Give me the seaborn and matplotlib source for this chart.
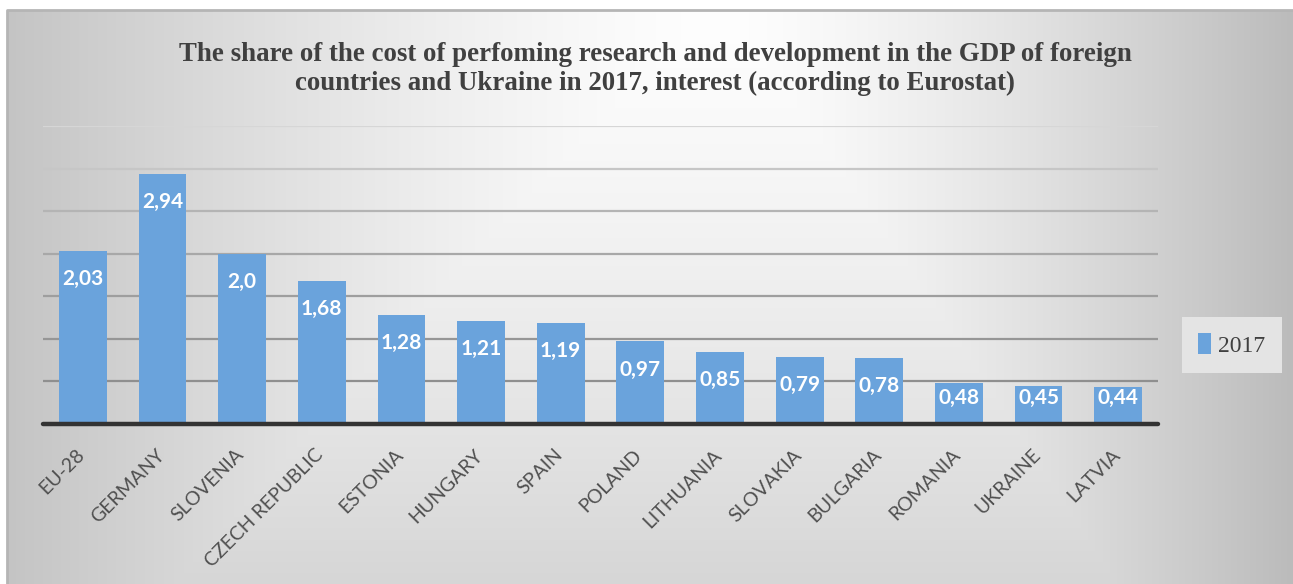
import numpy as np
import pandas as pd
import matplotlib
matplotlib.use("Agg")
import matplotlib.pyplot as plt
import matplotlib.transforms as mtransforms
import seaborn as sns

# R&D expenditure as a share of GDP, 2017
countries = ["EU-28", "GERMANY", "SLOVENIA", "CZECH REPUBLIC", "ESTONIA", "HUNGARY",
             "SPAIN", "POLAND", "LITHUANIA", "SLOVAKIA", "BULGARIA", "ROMANIA",
             "UKRAINE", "LATVIA"]
shares = [2.03, 2.94, 2.00, 1.68, 1.28, 1.21, 1.19, 0.97, 0.85, 0.79, 0.78, 0.48, 0.45, 0.44]
decimals = [2, 2, 1, 2, 2, 2, 2, 2, 2, 2, 2, 2, 2, 2]
series_name = "2017"
title = ("The share of the cost of perfoming research and development in the GDP of foreign\n"
         "countries and Ukraine in 2017, interest (according to Eurostat)")

df = pd.DataFrame({"country": countries, "share": shares})

W, H = 1293, 584
sns.set_theme(style="white")
fig = plt.figure(figsize=(W / 100, H / 100), dpi=100, facecolor="white")

# chart-area background: rectangular path gradient, white centre to grey edges
x0, ytop = 7, 10
bg = fig.add_axes([x0 / W, 0, 1 - x0 / W, (H - ytop) / H], zorder=0)
xs = np.arange(x0, W)
ys = np.arange(ytop, H)
cx = 720.0
hx = np.where(xs < cx, 58 * ((cx - xs) / (cx - x0)) ** 1.4,
              67 * ((xs - cx) / (W - cx)) ** 1.4)
vy = 40 * ((ys - ytop) / (H - ytop)) ** 1.3
dark = np.maximum(hx[None, :], vy[:, None])
img = np.clip(254 - dark, 0, 255) / 255.0
bg.imshow(np.dstack([img, img, img]), aspect="auto", interpolation="bilinear",
          extent=[0, 1, 0, 1])
bg.plot([0, 0, 1], [0, 1, 1], color="#b5b5b5", lw=2.0, transform=bg.transAxes, clip_on=False)
bg.set_xlim(0, 1)
bg.set_ylim(0, 1)
bg.axis("off")

ax = fig.add_axes([43 / W, (H - 424) / H, 1115 / W, 298 / H], zorder=2)
ax.patch.set_alpha(0)

sns.barplot(data=df, x="country", y="share", color="#6aa3dc", width=0.6,
            saturation=1, ax=ax, label=series_name, zorder=3)
for p in ax.patches:
    p.set_edgecolor("none")

ax.set_xlim(-0.5, len(countries) - 0.5)
ax.set_ylim(0, 3.5)
ax.set_yticks(np.arange(0.5, 3.51, 0.5))
ax.yaxis.grid(True, linewidth=1.6)
grid_cols = ["#8f8f8f", "#969696", "#9e9e9e", "#a8a8a8", "#b4b4b4", "#c6c6c6", "#d6d6d6"]
for gl, c in zip(ax.get_ygridlines(), grid_cols):
    gl.set_color(c)
ax.set_axisbelow(True)
ax.axhline(0, color="#333333", lw=3.2, zorder=4, clip_on=False)
for s in ax.spines.values():
    s.set_visible(False)
ax.tick_params(axis="y", left=False, labelleft=False)
ax.tick_params(axis="x", bottom=False, pad=2)
ax.set_xlabel("")
ax.set_ylabel("")

# value labels inside the bar tops
for i, (v, d) in enumerate(zip(shares, decimals)):
    txt = f"{v:.{d}f}".replace(".", ",")
    ax.text(i, max(v - 0.33, 0.305), txt, ha="center", va="center", color="white",
            fontsize=15, fontweight="bold", family="Lato", zorder=5)

ax.set_xticks(range(len(countries)))
ax.set_xticklabels(countries, rotation=45, ha="right", rotation_mode="anchor",
                   fontsize=14, family="Lato", color="#505050")
offset = mtransforms.ScaledTranslation(-0.07, -0.11, fig.dpi_scale_trans)
for lab in ax.get_xticklabels():
    lab.set_transform(lab.get_transform() + offset)

fig.text(655 / W, 1 - 69 / H, title, ha="center", va="center", fontsize=19.4,
         fontweight="bold", family="Liberation Serif", color="#404040",
         linespacing=1.22, zorder=5)

leg = ax.legend(loc="center", bbox_to_anchor=(1232 / W, 1 - 345 / H),
                bbox_transform=fig.transFigure, frameon=True, fancybox=False,
                handlelength=0.55, handleheight=1.0, handletextpad=0.3,
                borderpad=0.7, prop={"family": "Liberation Serif", "size": 17})
leg.get_frame().set_facecolor("#e4e4e4")
leg.get_frame().set_edgecolor("none")
leg.get_frame().set_alpha(1)
for t in leg.get_texts():
    t.set_color("#404040")

fig.savefig("out.png", dpi=100, facecolor="white")
